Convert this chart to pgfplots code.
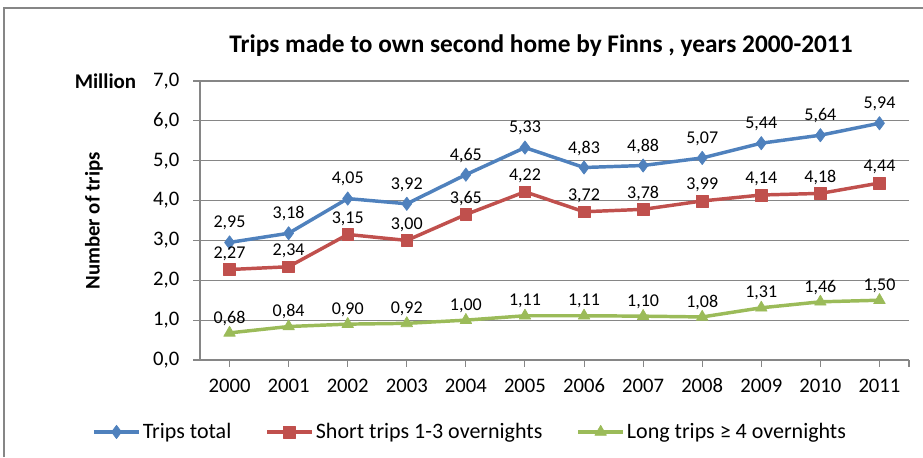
\documentclass[border=0pt]{standalone}
\usepackage{fontspec}
\setmainfont{Carlito}
\usepackage{pgfplots}
\pgfplotsset{compat=1.18}
\usepackage{pgfplotstable}
\definecolor{sblue}{HTML}{4F81BD}
\definecolor{sred}{HTML}{C0504D}
\definecolor{sgreen}{HTML}{9BBB59}
\definecolor{gridc}{HTML}{868686}
\pgfplotstableread{
x total short long
0  2.95 2.27 0.68
1  3.18 2.34 0.84
2  4.05 3.15 0.90
3  3.92 3.00 0.92
4  4.65 3.65 1.00
5  5.33 4.22 1.11
6  4.83 3.72 1.11
7  4.88 3.78 1.10
8  5.07 3.99 1.08
9  5.44 4.14 1.31
10 5.64 4.18 1.46
11 5.94 4.44 1.50
}\datatable
\pgfplotsset{
  lbl/.style={nodes near coords,
    every node near coord/.append style={
      /pgf/number format/fixed,
      /pgf/number format/fixed zerofill,
      /pgf/number format/precision=2,
      /pgf/number format/use comma,
      /pgf/number format/assume math mode=true,
      font=\fontsize{13.5}{15}\selectfont, color=black, anchor=center, yshift=#1}},
}
\begin{document}
\begin{tikzpicture}
\path[use as bounding box] (0pt,0pt) rectangle (692.25pt,342.75pt);
\draw[color=gridc, line width=1.2pt] (2.8pt,0pt) -- (2.8pt,336.6pt) -- (692.25pt,336.6pt);
\begin{axis}[
  at={(150pt,72.75pt)}, anchor=south west,
  scale only axis, width=531.75pt, height=209.25pt,
  xmin=-0.5, xmax=11.5, ymin=0, ymax=7,
  xtick={0,...,11},
  xticklabels={2000,2001,2002,2003,2004,2005,2006,2007,2008,2009,2010,2011},
  extra x ticks={11.5}, extra x tick labels={},
  ytick={0,...,7},
  yticklabel style={/pgf/number format/.cd, fixed, fixed zerofill, precision=1, use comma, assume math mode=true, /tikz/.cd, xshift=-7pt},
  xticklabel style={/pgf/number format/assume math mode=true, text height=11pt, text depth=0pt, yshift=-5pt},
  axis x line*=bottom, axis y line*=left,
  axis line style={gridc, line width=0.8pt},
  ymajorgrids, grid style={gridc, line width=0.8pt},
  tick align=outside, major tick length=5pt,
  major tick style={gridc, line width=0.8pt},
  tick label style={font=\fontsize{15.5}{18}\selectfont},
  legend columns=3,
  legend style={at={(0.381,-0.258)}, anchor=center, draw=none, fill=none,
    font=\fontsize{16.5}{19}\selectfont,
    /tikz/every even column/.append style={column sep=24pt},
    nodes={inner sep=1.5pt}},
  legend image code/.code={\draw[mark repeat=2, mark phase=2] plot coordinates {(0pt,0pt) (16.9pt,0pt) (33.8pt,0pt)};},
  clip=false,
]
\addplot[sblue, line width=2.6pt, line join=round, mark=diamond*, mark size=5pt, mark options={solid, line width=0.5pt}, lbl=14.5pt] table[x=x,y=total]{\datatable};
\addlegendentry{Trips total}
\addplot[sred, line width=2.6pt, line join=round, mark=square*, mark size=4.4pt, mark options={solid, line width=0.5pt}, lbl=11.8pt] table[x=x,y=short]{\datatable};
\addlegendentry{Short trips 1-3 overnights}
\addplot[sgreen, line width=2.6pt, line join=round, mark=triangle*, mark size=5pt, mark options={solid, line width=0.5pt}, lbl=11pt] table[x=x,y=long]{\datatable};
\addlegendentry{Long trips ≥ 4 overnights}
\end{axis}
\node[font=\bfseries\fontsize{19}{22}\selectfont] at (405.75pt,308.25pt) {Trips made to own second home by Finns , years 2000-2011};
\node[font=\bfseries\fontsize{15.7}{18}\selectfont] at (79.1pt,281.5pt) {Million};
\node[font=\bfseries\fontsize{15.6}{18}\selectfont, rotate=90] at (70.5pt,177pt) {Number of trips};
\end{tikzpicture}
\end{document}
